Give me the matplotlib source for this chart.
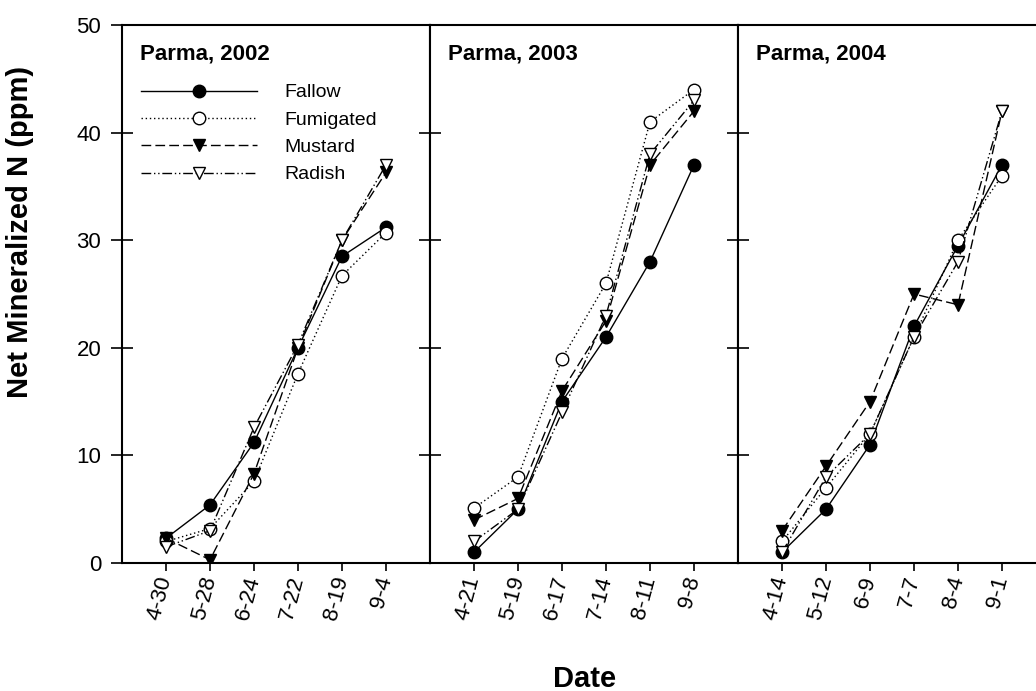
import matplotlib
matplotlib.use("Agg")
import matplotlib.pyplot as plt

plt.rcParams['font.family'] = ['Liberation Sans', 'DejaVu Sans']

# sampling dates for each season
dates_2002 = ["4-30", "5-28", "6-24", "7-22", "8-19", "9-4"]
dates_2003 = ["4-21", "5-19", "6-17", "7-14", "8-11", "9-8"]
dates_2004 = ["4-14", "5-12", "6-9", "7-7", "8-4", "9-1"]

# net mineralized N (ppm)
fallow_2002 = [2.3, 5.4, 11.2, 20.0, 28.5, 31.2]
fumigated_2002 = [2.0, 3.2, 7.6, 17.6, 26.7, 30.7]
mustard_2002 = [2.3, 0.3, 8.3, 20.0, 30.0, 36.3]
radish_2002 = [1.5, 3.0, 12.6, 20.3, 30.0, 37.0]

fallow_2003 = [1.0, 5.0, 15.0, 21.0, 28.0, 37.0]
fumigated_2003 = [5.1, 8.0, 19.0, 26.0, 41.0, 44.0]
mustard_2003 = [4.0, 6.0, 16.0, 22.5, 37.0, 42.0]
radish_2003 = [2.0, 5.0, 14.0, 23.0, 38.0, 43.0]

fallow_2004 = [1.0, 5.0, 11.0, 22.0, 29.5, 37.0]
fumigated_2004 = [2.0, 7.0, 12.0, 21.0, 30.0, 36.0]
mustard_2004 = [3.0, 9.0, 15.0, 25.0, 24.0, 42.0]
radish_2004 = [1.0, 8.0, 12.0, 21.0, 28.0, 42.0]

treatments = ["Fallow", "Fumigated", "Mustard", "Radish"]
panels = [
    ("Parma, 2002", dates_2002, [fallow_2002, fumigated_2002, mustard_2002, radish_2002]),
    ("Parma, 2003", dates_2003, [fallow_2003, fumigated_2003, mustard_2003, radish_2003]),
    ("Parma, 2004", dates_2004, [fallow_2004, fumigated_2004, mustard_2004, radish_2004]),
]

styles = {
    "Fallow":    dict(linestyle='-', marker='o', markerfacecolor='black'),
    "Fumigated": dict(linestyle=(0, (1, 2)), marker='o', markerfacecolor='white'),
    "Mustard":   dict(linestyle=(0, (7, 3)), marker='v', markerfacecolor='black'),
    "Radish":    dict(linestyle=(0, (7, 2, 1, 2, 1, 2)), marker='v', markerfacecolor='white'),
}

W, H = 1036, 691
fig = plt.figure(figsize=(W / 100, H / 100), dpi=100)

left_px = [122, 430, 738]
bottom_px, top_px, width_px = 563, 25, 308

for i, (title, dates, series) in enumerate(panels):
    ax = fig.add_axes([left_px[i] / W, (H - bottom_px) / H, width_px / W, (bottom_px - top_px) / H])
    x = list(range(len(dates)))
    for name, vals in zip(treatments, series):
        ax.plot(x, vals, color='black', linewidth=1.0, markersize=9,
                markeredgecolor='black', markeredgewidth=1.0, label=name,
                **styles[name])
    ax.set_xlim(-1, 6)
    ax.set_ylim(0, 50)
    ax.set_yticks(range(0, 51, 10))
    ax.set_xticks(x)
    ax.set_xticklabels(dates, rotation=75, ha='right', va='center',
                       rotation_mode='anchor', fontsize=16)
    ax.tick_params(axis='x', direction='out', length=6, width=1.2, pad=4)
    if i == 0:
        ax.tick_params(axis='y', left=True, right=True, direction='inout',
                       length=16, width=1.2, labelsize=16, pad=7)
    else:
        ax.tick_params(axis='y', left=True, right=(i == 1), direction='in',
                       length=8, width=1.2, labelleft=False)
    for sp in ax.spines.values():
        sp.set_linewidth(1.5)
    ax.text(0.06, 0.965, title, transform=ax.transAxes, fontsize=16,
            fontweight='bold', va='top', ha='left')
    if i == 0:
        ax.legend(loc='upper left', bbox_to_anchor=(0.035, 0.905), frameon=False,
                  fontsize=14, handlelength=6.0, handletextpad=1.4,
                  labelspacing=0.5, borderaxespad=0)

fig.text(20 / W, 1 - 232 / H, "Net Mineralized N (ppm)", rotation=90,
         fontsize=21, fontweight='bold', ha='center', va='center')
fig.text(585 / W, 1 - 679 / H, "Date", fontsize=21, fontweight='bold',
         ha='center', va='center')

fig.savefig("out.png", dpi=100)
